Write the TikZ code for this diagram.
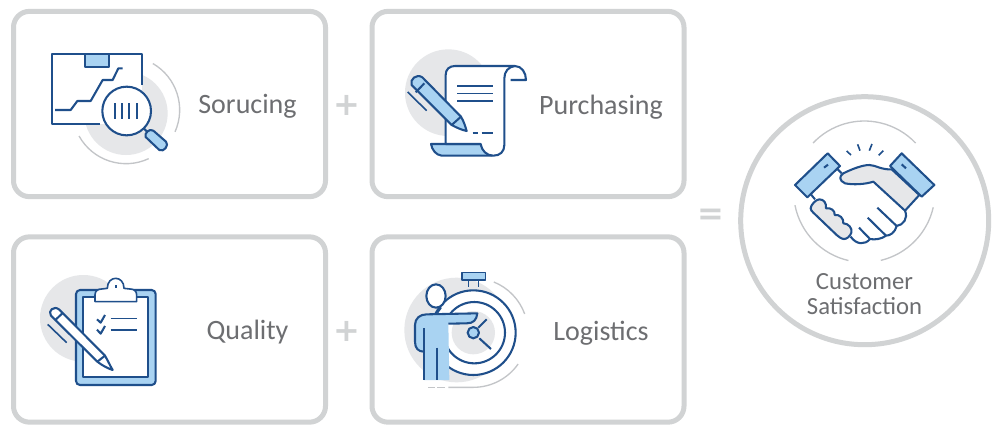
\documentclass[tikz,border=0pt]{standalone}
\usepackage{fontspec}
\setmainfont{Carlito}
\newfontfamily\opfont{DejaVu Sans}[BoldFont={DejaVu Sans Bold}]
\definecolor{inkblue}{HTML}{1F4F8B}
\definecolor{skyfill}{HTML}{A9D3F2}
\definecolor{greyblob}{HTML}{E6E7E9}
\definecolor{greyarc}{HTML}{C3C5C8}
\definecolor{panelline}{HTML}{D1D3D4}
\definecolor{labelgrey}{HTML}{6D6E71}
\tikzset{
  panel/.style={draw=panelline,line width=3.75pt,rounded corners=12pt,fill=white,minimum width=234pt,minimum height=139pt,inner sep=0pt},
  goalring/.style={draw=panelline,line width=3.75pt,circle,fill=white,minimum size=186pt,inner sep=0pt},
  label/.style={text=labelgrey,font=\fontsize{21}{24}\selectfont,inner sep=0pt},
  smalllabel/.style={text=labelgrey,font=\fontsize{18.5}{20}\selectfont,inner sep=0pt},
  opsign/.style={text=panelline,font=\opfont\bfseries\fontsize{24}{25}\selectfont,inner sep=0pt},
  ink/.style={draw=inkblue,line width=1.55pt,line join=round},
  inkt/.style={draw=inkblue,line width=1.2pt,line join=round},
  blob/.style={fill=greyblob},
  thinarc/.style={draw=greyarc,line width=1pt},
  icon/.style={x=.25pt,y=-.25pt}
}
\newcommand{\garc}[5]{\draw[thinarc] ([shift={(#4:#3)}]#1,#2) arc (#4:#5:#3);}
\begin{document}
\begin{tikzpicture}[x=.75pt,y=-.75pt]
\useasboundingbox (0,0) rectangle (997,433);
\fill[white] (0,0) rectangle (997,433);
\node[panel] (p1) at (169.5,104) {};
\node[panel] (p2) at (528,104) {};
\node[panel] (p3) at (169.5,329.5) {};
\node[panel] (p4) at (528,329.5) {};
\node[goalring] (goal) at (864.7,220.7) {};
\node[opsign] (plusa) at (347,105) {+};
\node[opsign] (plusb) at (347,331) {+};
\node[opsign] (eq) at (710.5,216.5) {=};
\node[label] (t1) at (247.5,106.5) {Sorucing};
\node[label] (t2) at (601,107) {Purchasing};
\node[label] (t3) at (247.5,332.5) {Quality};
\node[label] (t4) at (601,333) {Logistics};
\node[smalllabel] (t5) at (864.5,282) {Customer};
\node[smalllabel] (t6) at (864.5,306) {Satisfaction};
% Sourcing icon
\begin{scope}[shift={(0,0)},icon]
  \fill[blob] (378,340) circle (125);
  \fill[white] (155,162) rectangle (427,373);
  \garc{378}{330}{161}{-60}{24}
  \garc{378}{330}{161}{65}{151}
  \draw[ink] (427,255) -- (427,162) -- (155,162) -- (155,373) -- (300,373);
  \draw[ink,fill=skyfill] (255,162) rectangle (327,202);
  \draw[ink] (165,330) -- (212,330) -- (232,303) -- (272,303) -- (308,240) -- (338,240) -- (355,205) -- (368,205);
  \draw[ink,fill=white] (380,333) circle (73);
  \foreach \bx in {345,366,388,411} \draw[ink] (\bx,310) -- (\bx,358);
  \draw[ink] (431,385) -- (443,397);
  \draw[ink,fill=skyfill] (437,411) .. controls (432,400) and (448,384) .. (460,392) -- (498,425) .. controls (508,435) and (492,458) .. (478,450) -- cycle;
\end{scope}
% Purchasing icon
\begin{scope}[shift={(360,0)},icon]
  \fill[blob] (265,278) circle (130);
  \draw[ink,fill=skyfill] (213,432) -- (362,432) .. controls (368,450) and (378,460) .. (395,467) -- (245,467) .. controls (228,465) and (216,450) .. (213,432) -- cycle;
  \draw[ink,fill=white] (257,432) -- (257,225) .. controls (257,208) and (268,198) .. (285,198) -- (465,198) .. controls (445,200) and (433,215) .. (433,235) -- (433,435) .. controls (433,455) and (420,467) .. (400,467) .. controls (380,467) and (365,452) .. (362,432) -- cycle;
  \draw[ink] (465,198) .. controls (485,198) and (498,218) .. (498,240) -- (452,240);
  \draw[ink] (291,258) -- (398,258);
  \draw[inkt] (291,281) -- (398,281);
  \draw[inkt] (291,303) -- (398,303);
  \draw[ink] (338,398) -- (355,398);
  \draw[ink] (365,398) -- (398,398);
  \draw[ink,fill=skyfill] (155,255) .. controls (148,238) and (170,220) .. (187,232) -- (303,350) .. controls (312,365) and (316,380) .. (320,393) .. controls (305,390) and (288,382) .. (275,375) -- cycle;
  \draw[ink] (275,375) -- (303,350);
  \draw[ink] (167,277) -- (193,250);
  \draw[inkt] (143,276) -- (200,332);
\end{scope}
% Quality icon
\begin{scope}[shift={(0,225)},icon]
  \fill[blob] (250,280) circle (130);
  \draw[ink,fill=skyfill,rounded corners=3pt] (228,195) rectangle (467,480);
  \draw[ink,fill=white] (250,217) rectangle (445,457);
  \draw[inkt,fill=white] (285,230) -- (285,210) .. controls (285,198) and (293,192) .. (305,192) -- (322,190) .. controls (322,150) and (372,150) .. (372,190) -- (390,192) .. controls (402,192) and (410,198) .. (410,210) -- (410,230) -- cycle;
  \draw[ink] (347,180) -- (347,188);
  \draw[ink] (291,283) -- (302,293) -- (315,270);
  \draw[ink] (291,314) -- (302,326) -- (315,303);
  \draw[inkt] (332,280) -- (410,280);
  \draw[ink] (332,314) -- (410,314);
  \draw[ink,fill=white] (153,272) .. controls (142,258) and (162,240) .. (178,254) -- (315,392) .. controls (325,410) and (332,425) .. (338,435) .. controls (322,430) and (305,420) .. (292,410) -- cycle;
  \draw[ink] (292,410) -- (315,392);
  \draw[ink] (165,286) -- (188,264);
  \draw[inkt] (143,298) -- (200,353);
\end{scope}
% Logistics icon
\begin{scope}[shift={(360,225)},icon]
  \fill[blob] (290,315) circle (157);
  \garc{340}{323}{164}{-68}{-20}
  \draw[thinarc] (265,487) -- (340,487) arc (90:35:164);
  \draw[thinarc] (205,487) -- (225,487);
  \draw[thinarc] (232,487) -- (255,487);
  \draw[inkt] (326,165) -- (326,187);
  \draw[inkt] (356,165) -- (356,187);
  \draw[inkt,fill=skyfill] (306,142) rectangle (376,165);
  \draw[ink,fill=white] (340,323) circle (127);
  \draw[ink,fill=white] (343,323) circle (92);
  \fill[blob] (340,323) circle (65);
  \draw[ink] (355,308) -- (380,283);
  \draw[ink] (358,340) -- (393,372);
  \draw[ink,fill=skyfill] (340,323) circle (17);
  \draw[ink] (232,263) -- (243,247);
  \draw[ink,fill=white] (228,213) ellipse (29 and 35);
  \fill[skyfill] (165,300) .. controls (165,280) and (180,268) .. (200,268) -- (352,265) .. controls (350,285) and (340,295) .. (320,295) -- (265,296) -- (268,465) -- (192,465) -- (192,380) .. controls (175,380) and (165,370) .. (165,350) -- cycle;
  \draw[ink] (192,380) .. controls (175,380) and (165,370) .. (165,350) -- (165,300) .. controls (165,280) and (180,268) .. (200,268) -- (352,265) .. controls (350,285) and (340,295) .. (320,295) -- (265,296);
  \draw[ink] (192,310) -- (192,465);
  \draw[ink] (230,368) -- (230,465);
\end{scope}
% Handshake icon
\begin{scope}[shift={(690,90)},icon]
  \garc{523}{305}{212}{-136.5}{-43.5}
  \garc{523}{305}{212}{169}{103}
  \garc{523}{305}{212}{12.8}{76.5}
  \draw[inkt] (470,183) -- (483,195);
  \draw[inkt] (503,163) -- (510,182);
  \draw[inkt] (546,162) -- (538,182);
  \draw[inkt] (580,182) -- (566,196);
  \draw[ink] (440,235) -- (455,250);
  \draw[ink] (360,310) -- (375,328);
  \draw[ink,fill=greyblob] (605,238) .. controls (575,240) and (555,225) .. (538,225) .. controls (515,225) and (480,240) .. (460,250) .. controls (447,258) and (447,272) .. (465,280) .. controls (490,285) and (525,283) .. (550,275) -- (645,362) -- (688,315) -- cycle;
  \draw[ink] (645,362) .. controls (655,385) and (640,405) .. (620,408) .. controls (615,428) and (600,437) .. (588,437) .. controls (575,447) and (555,450) .. (540,447) .. controls (525,465) and (500,465) .. (482,440);
  \draw[ink] (562,353) -- (620,408);
  \draw[ink] (533,383) -- (588,437);
  \draw[ink] (507,413) -- (540,447);
  \draw[ink,fill=greyblob] (362,355) .. controls (362,345) and (378,328) .. (388,328) .. controls (402,328) and (410,340) .. (408,355) .. controls (422,352) and (436,362) .. (434,375) .. controls (448,372) and (462,385) .. (460,400) .. controls (475,400) and (488,415) .. (484,428) .. controls (480,440) and (470,447) .. (462,447) .. controls (455,447) and (445,440) .. (440,435) -- (370,368) .. controls (365,363) and (362,360) .. (362,355) -- cycle;
  \draw[ink,fill=skyfill] (315,285) -- (413,190) -- (450,228) -- (352,322) -- cycle;
  \draw[ink,fill=skyfill] (600,228) -- (635,190) -- (733,285) -- (695,320) -- cycle;
  \draw[ink] (402,233) -- (414,224);
  \draw[ink] (635,223) -- (648,235);
\end{scope}
\end{tikzpicture}
\end{document}
